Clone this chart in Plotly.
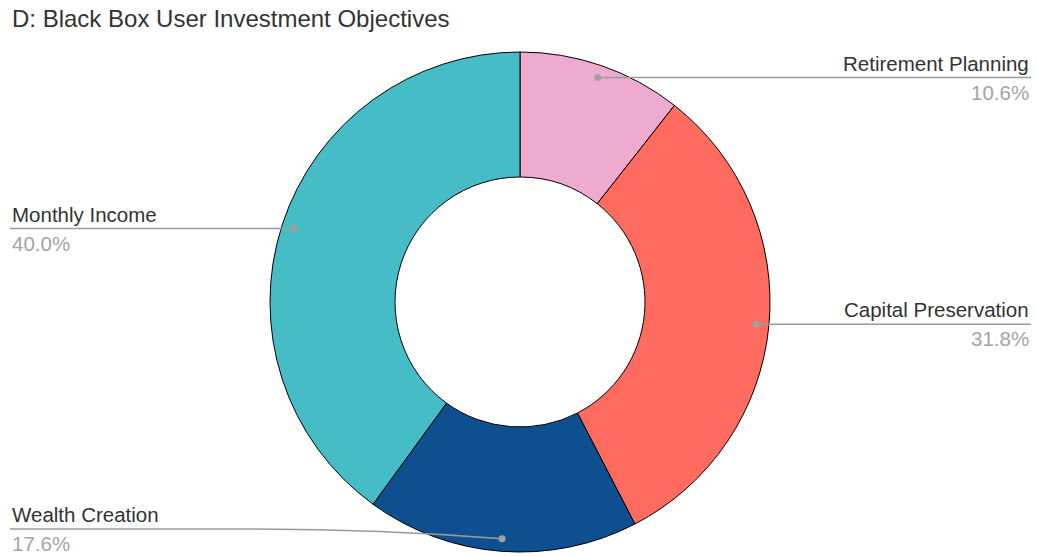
import math
import plotly.graph_objects as go

# Investment objective shares (percent)
labels = ["Retirement Planning", "Capital Preservation", "Wealth Creation", "Monthly Income"]
values = [10.6, 31.8, 17.6, 40.0]
colors = ["#EDACCF", "#FF6B5F", "#0E4F90", "#45BCC6"]

W, H = 1037, 556
CX, CY, R = 520, 302, 250          # donut centre and outer radius, in px
HOLE = 0.5
LEFT_X, RIGHT_X = 10, 1031          # label column edges
BOTTOM_LIMIT = 529                  # lowest allowed leader line y
FONT = "Liberation Sans, Arial, sans-serif"
LINE_COLOR = "#9a9a9a"
DOT_COLOR = "#a0a0a0"

fig = go.Figure()

fig.add_trace(go.Pie(
    labels=labels,
    values=values,
    hole=HOLE,
    sort=False,
    direction="clockwise",
    rotation=0,
    marker=dict(colors=colors, line=dict(color="#000000", width=1)),
    textinfo="none",
    hoverinfo="label+percent",
    showlegend=False,
    domain=dict(x=[(CX - R) / W, (CX + R) / W],
                y=[(H - CY - R) / H, (H - CY + R) / H]),
))

# Leader lines and callout labels, positioned from each slice's mid angle
total = sum(values)
cum = 0.0
annotations = []
shapes = []
for lab, val in zip(labels, values):
    mid = (cum + val / 2) / total * 2 * math.pi
    cum += val
    dx, dy = math.sin(mid), -math.cos(mid)
    px = CX + 0.95 * R * dx
    py = CY + 0.95 * R * dy
    ly = min(py, BOTTOM_LIMIT)
    right = dx > 0
    end_x = RIGHT_X if right else LEFT_X
    if abs(ly - py) > 0.5:
        sgn = 1 if right else -1
        bend_x = px + sgn * 250
        ctrl_x = px + sgn * 120
        path = (f"M {end_x},{ly} L {bend_x},{ly} "
                f"Q {ctrl_x},{ly} {px},{py}")
    else:
        path = f"M {end_x},{ly} L {px},{py}"
    shapes.append(dict(
        type="path", path=path, xref="x", yref="y", layer="above",
        line=dict(color=LINE_COLOR, width=1.5),
    ))
    shapes.append(dict(
        type="circle", xref="x", yref="y", layer="above",
        x0=px - 3.5, x1=px + 3.5, y0=py - 3.5, y1=py + 3.5,
        fillcolor=DOT_COLOR, line=dict(width=0),
    ))
    anchor = "right" if right else "left"
    annotations.append(dict(
        x=end_x, y=ly - 1, xref="x", yref="y", text=lab, showarrow=False,
        xanchor=anchor, yanchor="bottom",
        font=dict(family=FONT, size=20.5, color="#333333"),
    ))
    annotations.append(dict(
        x=end_x, y=ly + 1, xref="x", yref="y", text=f"{val:.1f}%", showarrow=False,
        xanchor=anchor, yanchor="top",
        font=dict(family=FONT, size=20.5, color="#a5a5a5"),
    ))

annotations.append(dict(
    x=LEFT_X, y=18, xref="x", yref="y", text="D: Black Box User Investment Objectives",
    showarrow=False, xanchor="left", yanchor="middle",
    font=dict(family=FONT, size=24, color="#333333"),
))

fig.update_layout(
    width=W, height=H,
    margin=dict(l=0, r=0, t=0, b=0),
    paper_bgcolor="#ffffff",
    plot_bgcolor="rgba(0,0,0,0)",
    xaxis=dict(range=[0, W], visible=False, fixedrange=True, domain=[0, 1]),
    yaxis=dict(range=[H, 0], visible=False, fixedrange=True, domain=[0, 1]),
    annotations=annotations,
    shapes=shapes,
    showlegend=False,
)

fig.write_html("out.html")
